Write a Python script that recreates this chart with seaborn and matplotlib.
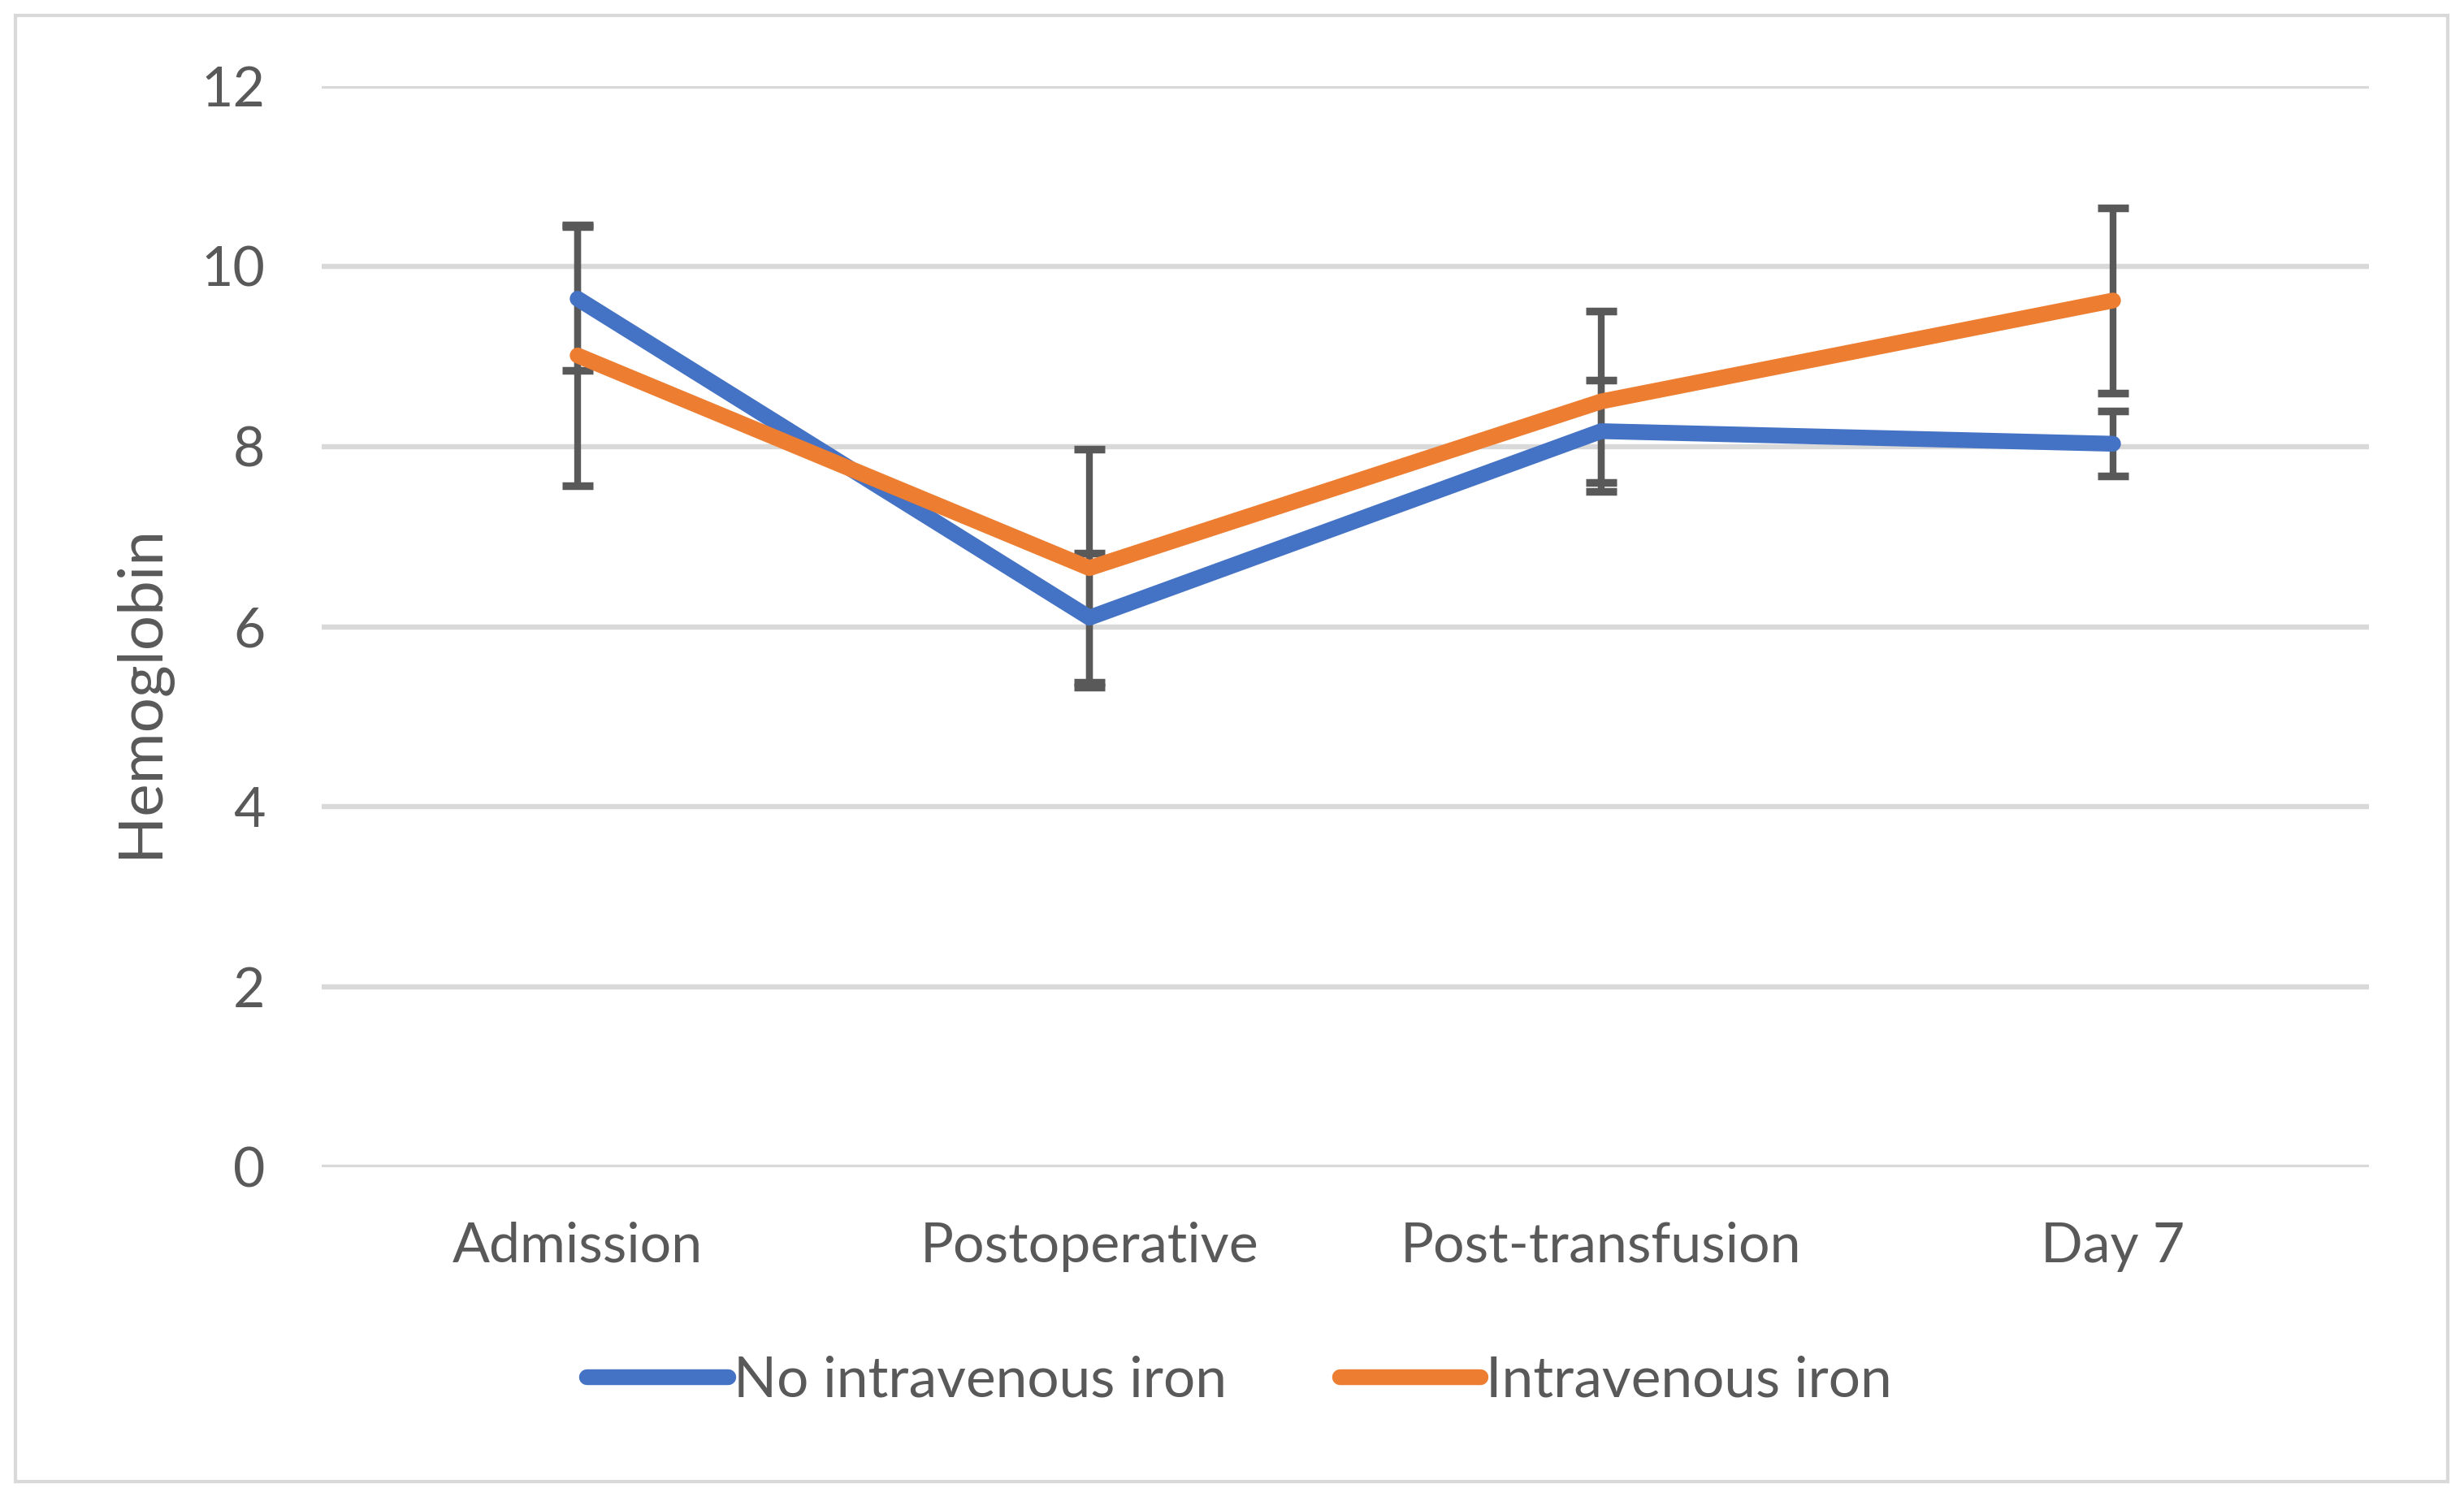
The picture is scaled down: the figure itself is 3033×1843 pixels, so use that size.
import pandas as pd
import matplotlib.pyplot as plt
import seaborn as sns
import numpy as np

# 数据
stages = ['Admission', 'Postoperative', 'Post-transfusion', 'Day 7']
groups = ['No intravenous iron', 'Intravenous iron']
hb_no_iron = [9.64, 6.10, 8.17, 8.03]
err_no_iron = [0.80, 0.72, 0.57, 0.36]
hb_iron = [9.01, 6.65, 8.50, 9.62]
err_iron = [1.45, 1.32, 1.00, 1.03]
yticks = [0, 2, 4, 6, 8, 10, 12]

colors = ['#4472C4', '#ED7D31']
grey = '#595959'

df = pd.DataFrame({
    'stage': stages * 2,
    'group': [groups[0]] * 4 + [groups[1]] * 4,
    'hb': hb_no_iron + hb_iron,
    'err': err_no_iron + err_iron,
})

sns.set_theme(style='white')
plt.rcParams['font.family'] = ['Lato', 'DejaVu Sans']

W, H, dpi = 3033, 1843, 200
fig = plt.figure(figsize=(W / dpi, H / dpi), dpi=dpi)
ax = fig.add_axes([396 / W, 1 - 1437 / H, (2916 - 396) / W, (1437 - 106) / H])

# 误差线先画，折线压在上面
for g in groups:
    d = df[df['group'] == g]
    ax.errorbar(d['stage'], d['hb'], yerr=d['err'], fmt='none', ecolor='#595959',
                elinewidth=3, capsize=6.8, capthick=3.4, zorder=1.5)

sns.lineplot(data=df, x='stage', y='hb', hue='group', palette=colors, sort=False,
             linewidth=7, solid_capstyle='round', solid_joinstyle='round', ax=ax, zorder=3)

ax.set_xlim(-0.5, 3.5)
ax.set_ylim(0, 12)
ax.set_yticks(yticks)
ax.set_yticklabels([str(t) for t in yticks])
ax.yaxis.grid(True, color='#D9D9D9', linewidth=2.3)
ax.set_axisbelow(True)
for s in ax.spines.values():
    s.set_visible(False)
ax.tick_params(axis='both', length=0, labelsize=24.5, labelcolor=grey)
ax.tick_params(axis='y', pad=25)
ax.tick_params(axis='x', pad=24)
ax.set_xlabel('')
ax.set_ylabel('')
fig.text(174 / W, 1 - 851 / H, 'Hemoglobin', rotation=90, ha='center', va='center',
         fontsize=27.5, color=grey)

handles, labels = ax.get_legend_handles_labels()
ax.get_legend().remove()
leg = fig.legend(handles, labels, loc='center', bbox_to_anchor=(0.503, 1 - 1700 / H), ncol=2,
                 frameon=False, fontsize=25, handlelength=2.5, handletextpad=0.1,
                 columnspacing=2.0, labelcolor=grey)
for h in leg.get_lines():
    h.set_linewidth(7)
    h.set_solid_capstyle('round')

# 外框
fig.patches.append(plt.Rectangle((19 / W, 19 / H), (3013 - 19) / W, (1824 - 19) / H,
                                 transform=fig.transFigure, fill=False,
                                 edgecolor='#D9D9D9', linewidth=1.5))

fig.savefig('out.png', dpi=dpi)
